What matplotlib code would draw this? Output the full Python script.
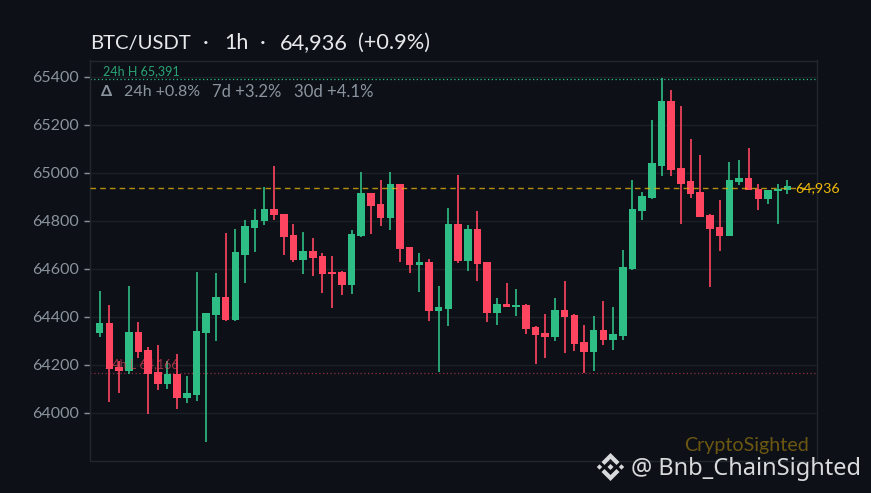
import matplotlib
matplotlib.use('Agg')
import matplotlib.pyplot as plt
from matplotlib.patches import Polygon

# candles
opens = [64330, 64372, 64189, 64173, 64335, 64260, 64168, 64118, 64160, 64060, 64072, 64330,
         64405, 64480, 64384, 64659, 64768, 64797, 64847, 64830, 64739, 64635, 64672, 64651,
         64585, 64585, 64530, 64735, 64914, 64868, 64810, 64951, 64689, 64614, 64626, 64422,
         64430, 64785, 64630, 64764, 64626, 64414, 64451, 64439, 64447, 64355, 64330, 64314,
         64426, 64405, 64293, 64251, 64343, 64301, 64318, 64597, 64839, 64893, 65030, 65301,
         65018, 64964, 64918, 64822, 64772, 64735, 64960, 64980, 64934, 64889, 64922, 64926]
closes = [64372, 64180, 64173, 64335, 64251, 64160, 64118, 64160, 64060, 64080, 64339, 64414,
          64480, 64384, 64668, 64776, 64805, 64847, 64822, 64730, 64635, 64672, 64643, 64576,
          64576, 64530, 64743, 64914, 64860, 64810, 64951, 64680, 64614, 64626, 64422, 64439,
          64785, 64630, 64764, 64618, 64414, 64451, 64439, 64447, 64347, 64322, 64314, 64426,
          64397, 64285, 64251, 64343, 64301, 64326, 64605, 64847, 64901, 65039, 65301, 65010,
          64955, 64910, 64814, 64764, 64735, 64968, 64980, 64926, 64889, 64930, 64934, 64943]
highs = [64505, 64447, 64215, 64526, 64376, 64272, 64280, 64214, 64243, 64152, 64585, 64414,
         64580, 64748, 64764, 64805, 64847, 64939, 65030, 64830, 64785, 64751, 64726, 64664,
         64651, 64589, 64760, 65001, 64914, 64968, 65001, 64951, 64689, 64664, 64639, 64526,
         64851, 64989, 64780, 64839, 64626, 64476, 64539, 64514, 64451, 64360, 64410, 64476,
         64547, 64410, 64364, 64401, 64464, 64439, 64676, 64968, 64918, 65218, 65397, 65343,
         65280, 65139, 65076, 64830, 64885, 65043, 65055, 65105, 64951, 64930, 64955, 64968]
lows = [64317, 64042, 64083, 64160, 64226, 63993, 64093, 64097, 64014, 64039, 64047, 63876,
        64297, 64380, 64380, 64539, 64668, 64780, 64805, 64655, 64626, 64576, 64568, 64497,
        64434, 64489, 64493, 64730, 64743, 64776, 64760, 64626, 64580, 64501, 64380, 64168,
        64360, 64622, 64589, 64547, 64376, 64364, 64439, 64401, 64326, 64201, 64226, 64297,
        64247, 64255, 64164, 64172, 64280, 64260, 64301, 64593, 64801, 64889, 64985, 64985,
        64785, 64893, 64814, 64522, 64672, 64735, 64947, 64926, 64843, 64868, 64785, 64910]
yticks = [64000, 64200, 64400, 64600, 64800, 65000, 65200, 65400]
high_24h = 65391
low_24h = 64166
last_price = 64936

BG = '#0d1117'
GREEN = '#2ebd85'
RED = '#ff4560'
GOLD = '#f0b90b'
W, H = 871, 493

plt.rcParams['font.family'] = ['Lato', 'DejaVu Sans']

fig = plt.figure(figsize=(W / 100, H / 100), dpi=100, facecolor=BG)
ax = fig.add_axes([90 / W, (H - 461) / H, 726.5 / W, 400.5 / H], facecolor=BG)
ax.set_xlim(-1, 74)
ax.set_ylim(63798, 65468)

x = list(range(len(opens)))
colors = [GREEN if c >= o else RED for o, c in zip(opens, closes)]
ax.vlines(x, lows, highs, colors=colors, linewidth=1.2, zorder=3)
ax.bar(x, [c - o for o, c in zip(opens, closes)], bottom=opens, width=0.78, color=colors, zorder=4)

# reference lines
ax.axhline(high_24h, color=GREEN, linewidth=0.9, linestyle=(0, (1, 2)), zorder=2)
ax.axhline(low_24h, color=RED, linewidth=0.9, linestyle=(0, (1, 2)), alpha=0.55, zorder=2)
ax.axhline(last_price, color=GOLD, linewidth=1.0, linestyle=(0, (4, 3)), alpha=0.75, zorder=5)

ax.set_yticks(yticks)
ax.set_yticklabels([str(v) for v in yticks], fontsize=11.5, color='#8b949e')
ax.set_xticks([])
ax.tick_params(axis='y', length=4, width=1, color='#8b949e', pad=4)
ax.grid(axis='y', color='#1b2027', linewidth=1, zorder=0)
ax.set_axisbelow(True)
for side in ax.spines:
    ax.spines[side].set_color('#22272e')
    ax.spines[side].set_linewidth(1)


def label(px, py, s, **kw):
    fig.text(px / W, 1 - py / H, s, va='center', **kw)


# title pieces placed one by one, the original font is narrower in the letters
label(90, 43, 'BTC/USDT', fontsize=14.6, color='#e6e8ea')
label(203, 43, '·', fontsize=15.5, color='#e6e8ea')
label(224, 43, '1h', fontsize=15.5, color='#e6e8ea')
label(260, 43, '·', fontsize=15.5, color='#e6e8ea')
label(280, 43, '64,936', fontsize=15.7, color='#e6e8ea')
label(358, 43, '(+0.9%)', fontsize=15.7, color='#e6e8ea')

label(103, 71, '24h H 65,391', fontsize=9, color=GREEN, alpha=0.85)
label(101, 92, 'Δ', fontsize=11.5, color='#8b949e', fontweight='bold')
label(124, 92, '24h +0.8%', fontsize=11.5, color='#8b949e')
label(212, 92, '7d +3.2%', fontsize=12, color='#8b949e')
label(294, 92, '30d +4.1%', fontsize=12.1, color='#8b949e')
ax.text(0.5, 64202, '24h L 64,166', fontsize=9, color=RED, alpha=0.6, va='center', zorder=6)
label(795, 188, '64,936', fontsize=10.3, color=GOLD)
label(684, 445, 'CryptoSighted', fontsize=14.1, color=GOLD, alpha=0.42)

# watermark
label(631, 469, '@ Bnb_ChainSighted', fontsize=17, color='#d8dadc', family=['Noto Sans', 'DejaVu Sans'])
cx, cy = 610.5, 467
logo = [[(0, -14), (9, -5), (6, -2), (0, -8), (-6, -2), (-9, -5)],
        [(0, 14), (9, 5), (6, 2), (0, 8), (-6, 2), (-9, 5)],
        [(0, -3), (3, 0), (0, 3), (-3, 0)],
        [(-11, -2.7), (-8.3, 0), (-11, 2.7), (-13.7, 0)],
        [(11, -2.7), (13.7, 0), (11, 2.7), (8.3, 0)]]
for shape in logo:
    fig.add_artist(Polygon([((cx + a) / W, 1 - (cy + b) / H) for a, b in shape], closed=True,
                           transform=fig.transFigure, facecolor='#d8dadc', edgecolor='none'))

plt.savefig('out.png', dpi=100, facecolor=BG)
